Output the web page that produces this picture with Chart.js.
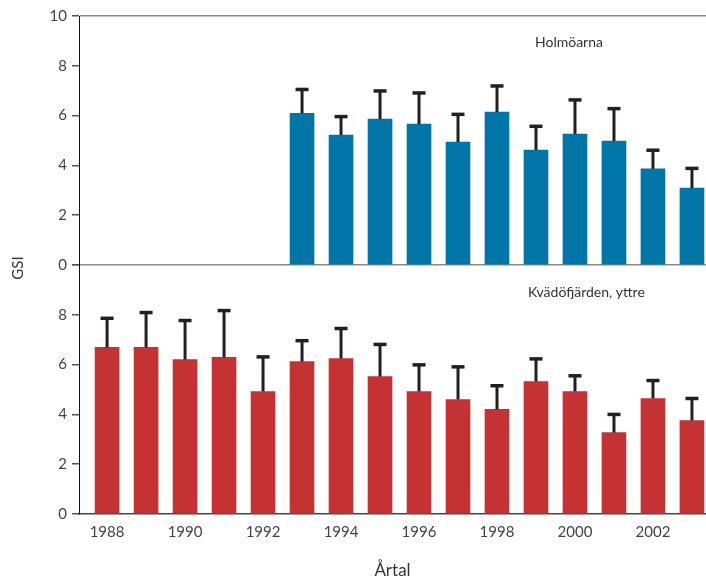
<!DOCTYPE html>
<html>
<head>
<meta charset="utf-8">
<script src="https://cdn.jsdelivr.net/npm/chart.js@4/dist/chart.umd.min.js"></script>
<style>
  html, body { margin: 0; padding: 0; background: #fff; }
  #wrap { width: 706px; height: 579px; }
</style>
</head>
<body>
<div id="wrap"><canvas id="gsi_canvas" width="706" height="579"></canvas></div>
<script>
// years on the shared x axis
const years = [1988, 1989, 1990, 1991, 1992, 1993, 1994, 1995, 1996, 1997, 1998, 1999, 2000, 2001, 2002, 2003]
const year_ticks = [1988, 1990, 1992, 1994, 1996, 1998, 2000, 2002]

// Holmöarna (top panel), no data before 1993
const holm_mean = [null, null, null, null, null, 6.09, 5.22, 5.86, 5.66, 4.94, 6.14, 4.62, 5.26, 4.98, 3.86, 3.09]
const holm_sd = [null, null, null, null, null, 0.96, 0.74, 1.13, 1.25, 1.11, 1.05, 0.95, 1.37, 1.30, 0.75, 0.79]

// Kvädöfjärden, yttre (bottom panel)
const kvad_mean = [6.69, 6.69, 6.20, 6.29, 4.92, 6.12, 6.24, 5.52, 4.92, 4.60, 4.20, 5.32, 4.92, 3.27, 4.64, 3.75]
const kvad_sd = [1.17, 1.40, 1.57, 1.88, 1.39, 0.84, 1.21, 1.29, 1.07, 1.31, 0.95, 0.91, 0.63, 0.73, 0.72, 0.89]

const y_ticks = [0, 2, 4, 6, 8, 10]

const font_family = "Lato, 'Noto Sans', sans-serif"

function to_points(mean, sd) {
  var pts = []
  years.forEach((yr, i) => {
    if (mean[i] !== null) pts.push({ x: yr, y: mean[i], sd: sd[i] })
  })
  return pts
}

// draws the upper half of the error bars (T shape)
const error_bars = {
  id: "error_bars",
  afterDatasetsDraw(chart) {
    const ctx = chart.ctx
    ctx.save()
    ctx.strokeStyle = "#231f20"
    chart.data.datasets.forEach((ds, di) => {
      const meta = chart.getDatasetMeta(di)
      const yscale = chart.scales[ds.yAxisID]
      meta.data.forEach((bar, i) => {
        const p = ds.data[i]
        const top = yscale.getPixelForValue(p.y + p.sd)
        ctx.lineWidth = 3
        ctx.beginPath()
        ctx.moveTo(bar.x, bar.y)
        ctx.lineTo(bar.x, top)
        ctx.stroke()
        ctx.lineWidth = 3.5
        ctx.beginPath()
        ctx.moveTo(bar.x - 6.5, top)
        ctx.lineTo(bar.x + 6.5, top)
        ctx.stroke()
      })
    })
    ctx.restore()
  }
}

// axis title on the left and the two panel names
const panel_text = {
  id: "panel_text",
  afterDraw(chart) {
    const ctx = chart.ctx
    const area = chart.chartArea
    ctx.save()
    ctx.fillStyle = "#333"
    ctx.font = "14px " + font_family
    ctx.textBaseline = "middle"
    ctx.textAlign = "left"
    ctx.fillText("Holmöarna", 535, 42)
    ctx.fillText("Kvädöfjärden, yttre", 528, 292)

    ctx.font = "15px " + font_family
    ctx.textAlign = "center"
    ctx.translate(18, (area.top + area.bottom) / 2 + 3)
    ctx.rotate(-Math.PI / 2)
    ctx.fillText("GSI", 0, 0)
    ctx.restore()
  }
}

function y_scale(weight, hide_top) {
  return {
    type: "linear",
    position: "left",
    stack: "panels",
    stackWeight: 1,
    weight: weight,
    min: 0,
    max: 10,
    afterBuildTicks: (scale) => { scale.ticks = y_ticks.map(v => ({ value: v })) },
    afterFit: (scale) => { scale.width = 79 },
    ticks: {
      color: "#444",
      padding: 5,
      font: { family: font_family, size: 15 },
      callback: (v) => (hide_top && v === 10) ? "" : String(v),
    },
    grid: {
      drawTicks: true,
      tickLength: 7,
      tickColor: "#555",
      color: (c) => (!hide_top && (c.tick.value === 0 || c.tick.value === 10)) ? "#8a8a8a" : "rgba(0,0,0,0)",
      lineWidth: 1.5,
    },
    border: { display: true, color: "#111", width: 1 },
  }
}

window.addEventListener("DOMContentLoaded", () => {
  var config = {
    type: "bar",
    data: {
      datasets: [
        {
          label: "Holmöarna",
          data: to_points(holm_mean, holm_sd),
          backgroundColor: "#0076a8",
          yAxisID: "yTop",
          barThickness: 24,
          grouped: false,
        },
        {
          label: "Kvädöfjärden, yttre",
          data: to_points(kvad_mean, kvad_sd),
          backgroundColor: "#c43234",
          yAxisID: "yBottom",
          barThickness: 24,
          grouped: false,
        },
      ],
    },
    options: {
      responsive: false,
      animation: false,
      layout: { padding: { top: 16, left: 0, right: 0, bottom: 0 } },
      plugins: { legend: { display: false }, tooltip: { enabled: false } },
      scales: {
        x: {
          type: "linear",
          offset: false,
          min: 1987.28,
          max: 2003.36,
          afterBuildTicks: (scale) => { scale.ticks = year_ticks.map(v => ({ value: v })) },
          afterFit: (scale) => { scale.height = 65 },
          ticks: {
            color: "#444",
            padding: 1,
            font: { family: font_family, size: 15 },
            callback: (v) => String(v),
          },
          grid: { display: false },
          border: { display: true, color: "#444", width: 1.5 },
          title: {
            display: true,
            text: "Årtal",
            color: "#333",
            font: { family: font_family, size: 17, lineHeight: 1 },
            padding: { top: 0, bottom: 0 },
          },
        },
        yTop: y_scale(1, false),
        yBottom: y_scale(0, true),
      },
    },
    plugins: [error_bars, panel_text],
  }

  var chart = new Chart(document.getElementById("gsi_canvas").getContext("2d"), config)
})
</script>
</body>
</html>
